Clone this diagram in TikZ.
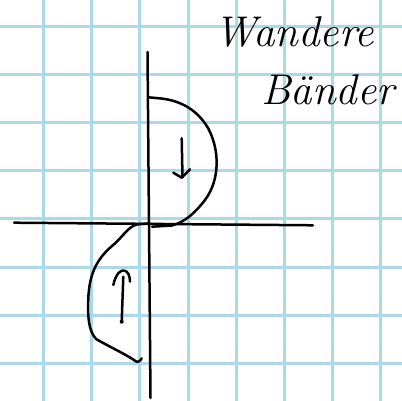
\documentclass[tikz,border=0pt]{standalone}
\definecolor{gridblue}{RGB}{173,216,230}
\tikzset{
  gridline/.style={gridblue, line width=3pt},
  ink/.style={black, line width=2.5pt, line cap=round, line join=round},
  hand/.style={inner sep=0pt, font=\fontsize{43}{47}\selectfont\itshape}
}
\begin{document}
\begin{tikzpicture}[x=1pt,y=-1pt]
  \fill[white] (0,0) rectangle (402,401);
  \useasboundingbox (0,0) rectangle (402,401);
  % grid
  \foreach \k in {0,...,7} {
    \draw[gridline] ({43.7+48.1*\k},0) -- ({43.7+48.1*\k},401);
    \draw[gridline] (0,{27+48*\k}) -- (402,{27+48*\k});
  }
  % axes
  \coordinate (ytop) at (147.5,52);
  \coordinate (ybot) at (150.5,398);
  \coordinate (xl) at (14,222.7);
  \coordinate (xr) at (313,225.3);
  \draw[ink] (ytop) -- (ybot);
  \draw[ink] (xl) -- (xr);
  % upper curve
  \draw[ink] (148.5,97.3) -- (158,98.2)
    .. controls (175,99.5) and (195,106) .. (208,128)
    .. controls (220,150) and (220,180) .. (205,200)
    .. controls (195,213) and (185,222) .. (172,225.5)
    -- (152,226.7);
  % lower curve
  \draw[ink] (150,223.3) -- (138,224.3)
    .. controls (128,226) and (124,236) .. (112,246)
    .. controls (98,258) and (90,272) .. (88.5,295)
    .. controls (87.5,315) and (88,330) .. (96,339)
    .. controls (110,347) and (125,354) .. (134,360)
    .. controls (137,363) and (140,362) .. (141.7,358.3);
  % down arrow
  \draw[ink] (181.7,138.3) -- (182.5,177.3);
  \draw[ink] (173.3,172.7) -- (181.7,177.7) -- (190,169.3);
  % up arrow
  \draw[ink] (121.7,321.7) -- (123.3,276.7);
  \draw[ink] (113.3,285) .. controls (116,273) and (121,270) .. (124,270.5)
    .. controls (128,271) and (130,276) .. (130,281.7);
  \fill (121.7,321.7) circle (2);
  % text
  \node[hand, anchor=base west] (t1) at (214,47) {Wandere};
  \node[hand, anchor=base west] (t2) at (261,105) {Bänder};
\end{tikzpicture}
\end{document}
